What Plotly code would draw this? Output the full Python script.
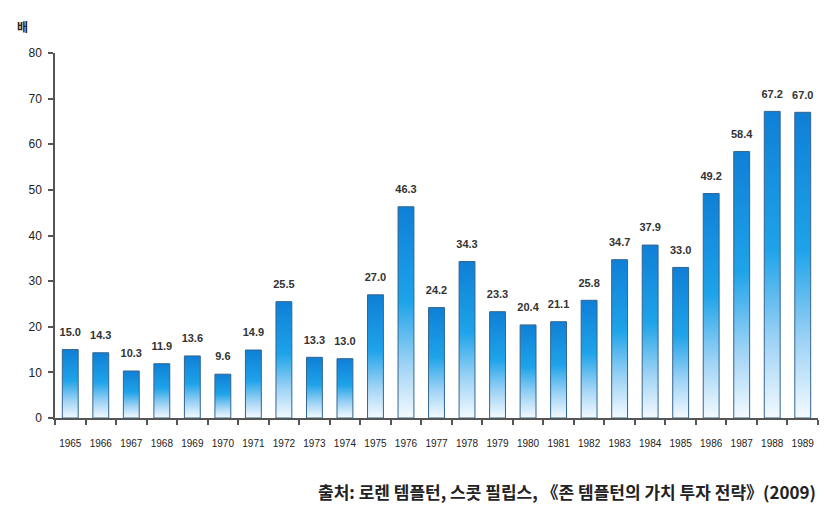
import plotly.graph_objects as go

years = [str(y) for y in range(1965, 1990)]
values = [15.0, 14.3, 10.3, 11.9, 13.6, 9.6, 14.9, 25.5, 13.3, 13.0, 27.0, 46.3, 24.2,
          34.3, 23.3, 20.4, 21.1, 25.8, 34.7, 37.9, 33.0, 49.2, 58.4, 67.2, 67.0]
value_labels = [f"<b>{v:.1f}</b>" for v in values]
y_ticks = [0, 10, 20, 30, 40, 50, 60, 70, 80]

BAR_HALF = 0.26
grad = [[0.0, "#f4faff"], [0.25, "#9fd3f5"], [0.55, "#1ea3e9"], [1.0, "#0f7fd6"]]

fig = go.Figure()
for i, v in enumerate(values):
    fig.add_trace(go.Scatter(
        x=[i - BAR_HALF, i - BAR_HALF, i + BAR_HALF, i + BAR_HALF, i - BAR_HALF],
        y=[0, v, v, 0, 0],
        mode="lines", fill="toself",
        fillgradient=dict(type="vertical", colorscale=grad),
        line=dict(color="#33658f", width=1),
        hoverinfo="skip", showlegend=False,
    ))

fig.add_trace(go.Scatter(
    x=list(range(len(values))), y=values, mode="markers+text",
    marker=dict(size=16, opacity=0),
    text=value_labels, textposition="top center",
    textfont=dict(family="Liberation Sans, Arial, sans-serif", size=11, color="#333"),
    showlegend=False, hoverinfo="skip",
))

# invisible trace on the boundary-tick axis
fig.add_trace(go.Scatter(x=[-0.5], y=[0], xaxis="x2", mode="markers",
                         marker=dict(opacity=0), showlegend=False, hoverinfo="skip"))

fig.update_layout(
    width=828, height=513,
    margin=dict(l=55, r=10, t=53, b=95),
    paper_bgcolor="white", plot_bgcolor="white",
    xaxis=dict(
        range=[-0.5, len(values) - 0.5],
        tickmode="array", tickvals=list(range(len(values))), ticktext=years,
        ticks="", showline=False, showgrid=False, zeroline=False,
        tickfont=dict(family="Liberation Sans, Arial, sans-serif", size=10, color="#222"),
        ticklabelstandoff=18,
    ),
    xaxis2=dict(
        overlaying="x", anchor="y", side="bottom",
        range=[-0.5, len(values) - 0.5],
        tickmode="array", tickvals=[i - 0.5 for i in range(len(values) + 1)],
        showticklabels=False, ticks="outside", ticklen=5, tickcolor="#555", tickwidth=1.5,
        showline=True, linecolor="#555", linewidth=1.5, showgrid=False, zeroline=False,
    ),
    yaxis=dict(
        range=[0, 80], tickmode="array", tickvals=y_ticks,
        ticks="outside", ticklen=5, tickcolor="#555", tickwidth=1.5,
        showline=True, linecolor="#555", linewidth=1.5, showgrid=False, zeroline=False,
        tickfont=dict(family="Liberation Sans, Arial, sans-serif", size=12, color="#222"),
        ticklabelstandoff=4,
    ),
    annotations=[
        dict(text="<b>배</b>", xref="paper", yref="paper", x=-0.042, y=1.045,
             xanchor="center", yanchor="bottom", showarrow=False,
             font=dict(family="Noto Sans CJK KR", size=12, color="#222")),
        dict(text="<b>출처: 로렌 템플턴, 스콧 필립스, 《존 템플턴의 가치 투자 전략》(2009)</b>",
             xref="paper", yref="paper", x=1.0, y=-0.2,
             xanchor="right", yanchor="middle", showarrow=False,
             font=dict(family="Noto Sans CJK KR", size=17, color="#222")),
    ],
)

fig.write_html("out.html")
